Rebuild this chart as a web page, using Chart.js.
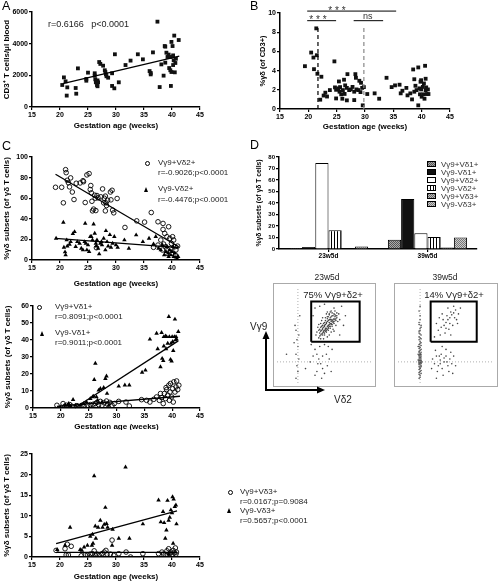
<!DOCTYPE html>
<html>
<head>
<meta charset="utf-8">
<script src="https://cdn.jsdelivr.net/npm/chart.js@4/dist/chart.umd.min.js"></script>
<style>
  body { margin: 0; background: #fff; }
  #fig { position: relative; width: 502px; height: 583px; overflow: hidden; font-family: "Liberation Sans", Arial, sans-serif; }
  #fig canvas { position: absolute; }
  .t { position: absolute; white-space: pre; color: #222; font-size: 8px; line-height: 8px; }
  .c { transform: translateX(-50%); }
  .lab { position: absolute; font-size: 12.5px; line-height: 12.5px; color: #000; }
  .mk-o { position: absolute; width: 3.4px; height: 3.4px; border: 0.9px solid #000; border-radius: 50%; }
  .mk-t { position: absolute; width: 0; height: 0; border-left: 2.8px solid transparent; border-right: 2.8px solid transparent; border-bottom: 5px solid #000; }
  .flowbox { position: absolute; border: 1px solid #aaa; box-sizing: border-box; }
</style>
</head>
<body>
<div id="fig">
  <canvas id="chartA"></canvas>
  <canvas id="chartB"></canvas>
  <canvas id="chartC1"></canvas>
  <canvas id="chartC2"></canvas>
  <canvas id="chartC3"></canvas>
  <canvas id="chartD"></canvas>
  <canvas id="flowL"></canvas>
  <canvas id="flowR"></canvas>
  <div class="flowbox" style="left:273px;top:283px;width:103px;height:104px"></div>
  <div class="flowbox" style="left:394px;top:283px;width:104px;height:104px"></div>

  <div class="lab" style="left:2px;top:0px">A</div>
  <div class="lab" style="left:250px;top:0px">B</div>
  <div class="lab" style="left:2px;top:140px">C</div>
  <div class="lab" style="left:250px;top:139px">D</div>

  <div class="t" style="left:48px;top:19.5px;font-size:9px;line-height:9px">r=0.6166   p&lt;0.0001</div>

  <div class="mk-o" style="left:144.5px;top:160.5px"></div>
  <div class="t" style="left:158px;top:159px">Vγ9+Vδ2+</div>
  <div class="t" style="left:158px;top:169.4px">r=-0.9026;p&lt;0.0001</div>
  <div class="mk-t" style="left:144px;top:186.8px"></div>
  <div class="t" style="left:158px;top:185.4px">Vγ9-Vδ2+</div>
  <div class="t" style="left:158px;top:196px">r=-0.4476;p&lt;0.0001</div>

  <div class="mk-o" style="left:37px;top:304.5px"></div>
  <div class="t" style="left:55px;top:302.8px">Vγ9+Vδ1+</div>
  <div class="t" style="left:55px;top:313.4px">r=0.8091;p&lt;0.0001</div>
  <div class="mk-t" style="left:40px;top:330.8px"></div>
  <div class="t" style="left:55px;top:329.4px">Vγ9-Vδ1+</div>
  <div class="t" style="left:55px;top:339.4px">r=0.9011;p&lt;0.0001</div>

  <div class="mk-o" style="left:227.8px;top:489.5px"></div>
  <div class="t" style="left:240px;top:487.8px">Vγ9+Vδ3+</div>
  <div class="t" style="left:240px;top:497.8px">r=0.0167;p=0.9084</div>
  <div class="mk-t" style="left:227.2px;top:508.2px"></div>
  <div class="t" style="left:240px;top:506.8px">Vγ9-Vδ3+</div>
  <div class="t" style="left:240px;top:516.8px">r=0.5657;p&lt;0.0001</div>

  <div class="t c" style="left:327px;top:273px;font-size:8.5px;line-height:8.5px">23w5d</div>
  <div class="t c" style="left:445px;top:273px;font-size:8.5px;line-height:8.5px">39w5d</div>
  <div class="t c" style="left:333px;top:289.5px;font-size:9.5px;line-height:9.5px">75% Vγ9+δ2+</div>
  <div class="t c" style="left:454px;top:289.5px;font-size:9.5px;line-height:9.5px">14% Vγ9+δ2+</div>
  <div class="t" style="left:250px;top:322px;font-size:10px;line-height:10px">Vγ9</div>
  <div class="t c" style="left:343px;top:395px;font-size:10px;line-height:10px">Vδ2</div>

  <svg style="position:absolute;left:0;top:0" width="502" height="583">
    <line x1="266" y1="389" x2="266" y2="337" stroke="#000" stroke-width="2"/>
    <polygon points="266,331 262.5,339 269.5,339" fill="#000"/>
    <line x1="265" y1="390" x2="318" y2="390" stroke="#000" stroke-width="2"/>
    <polygon points="325,390 317,386.5 317,393.5" fill="#000"/>
  </svg>
</div>

<script>
// ---- data ----
const weekTicks = [15, 20, 25, 30, 35, 40, 45];
const cd3Ticks = [0, 2000, 4000, 6000];
const gdTicks = [0, 2, 4, 6, 8, 10];
const d2Ticks = [0, 20, 40, 60, 80, 100];
const d1Ticks = [0, 10, 20, 30, 40, 50, 60];
const d3Ticks = [0, 5, 10, 15, 20, 25];
const barTicks = [0, 10, 20, 30, 40, 50, 60, 70, 80];

// A: CD3+ T cells per ul blood vs gestation week
const cd3Blood = [
  [20.4,1390],[20.7,1870],[21.0,1620],[21.3,1240],[21.2,720],[22.9,840],[23.2,2440],[22.8,1200],
  [24.7,1770],[24.7,1660],[25.0,2170],[26.2,2130],[26.2,1980],[26.3,1750],[26.4,1560],[26.6,1390],
  [26.7,1310],[26.7,1680],[26.8,1560],[27.0,2840],[27.2,2720],[27.7,2610],[28.0,2320],[28.1,2210],
  [28.2,2060],[28.3,1940],[28.6,1850],[29.3,2130],[29.3,1330],[29.7,1180],[29.8,3330],[30.5,1560],
  [31.7,2650],[32.6,2930],[33.9,3330],[34.8,3010],[36.0,2270],[36.2,2150],[36.2,2060],[36.6,3450],
  [37.4,5390],[37.8,1260],[38.1,2690],[38.5,1980],[38.7,3850],[38.8,3810],[38.8,2800],[39.0,3430],
  [39.2,3160],[39.4,3310],[39.5,2460],[39.7,2320],[39.8,1330],[39.9,2210],[39.9,4110],[40.1,3850],
  [40.2,3260],[40.2,2650],[40.3,2950],[40.4,4510],[40.5,2190],[40.6,2780],[40.7,3050],[41.2,4230],
  [39.7,3160]
];
const cd3Fit = [[20.5,1470],[41.3,3220]];

// B: % gamma-delta of CD3+
const gdOfCd3 = [
  [19.4,4.46],[20.5,5.88],[20.9,5.36],[21.0,4.15],[21.4,8.4],[21.5,5.6],[21.6,3.67],[22.3,3.36],
  [22.1,0.97],[22.7,1.4],[23.0,1.7],[23.3,1.3],[23.8,1.97],[24.6,4.96],[24.7,2.25],[24.9,1.1],
  [24.9,2.0],[25.3,2.15],[25.4,2.87],[25.5,1.8],[25.6,2.28],[25.8,1.53],[26.0,1.07],[26.1,1.97],
  [26.3,3.05],[26.4,1.57],[26.5,2.46],[26.8,2.2],[26.8,0.9],[26.9,3.63],[27.2,1.97],[27.5,2.04],
  [27.8,2.3],[28.1,1.8],[28.1,0.93],[28.3,3.63],[28.4,3.25],[28.5,2.04],[28.8,1.97],[29.0,2.94],
  [29.2,1.76],[29.3,2.73],[29.5,2.2],[29.6,0.38],[29.8,2.28],[30.4,1.56],[31.7,1.63],[32.5,1.07],
  [33.8,3.25],[34.7,2.28],[35.3,2.46],[36.1,2.53],[36.3,1.63],[36.6,1.9],[37.3,2.2],[37.5,1.42],
  [38.0,1.63],[38.3,1.0],[38.5,4.12],[38.7,3.1],[38.7,1.8],[38.9,2.42],[39.4,4.33],[39.4,0.38],
  [39.6,2.15],[39.7,1.53],[39.8,2.84],[39.9,2.04],[40.0,1.28],[40.2,2.3],[40.3,1.53],[40.4,2.66],
  [40.5,1.07],[40.6,4.5],[40.7,3.15],[40.7,1.97],[40.9,1.56],[41.1,2.04],[41.2,1.56],[39.1,1.97],
  [39.9,3.0],[40.8,2.25]
];
const gdCutoffs = [[21.7, 8.75], [29.8, 8.75]];
const gdSigBars = [[19.8, 35.5, 10.2, 25.05, '* * *'], [19.8, 24.9, 9.2, 21.7, '* * *'], [28.0, 33.2, 9.2, 30.5, 'ns']];

// C (top): Vg9+Vd2+ and Vg9-Vd2+
const v9d2Pos = [
  [19.2,70.6],[20.3,70.6],[20.6,55.5],[21.0,87.7],[21.1,84.8],[21.3,77.4],[21.5,75],[21.7,71],
  [21.9,79.7],[22.2,66],[22.5,58.7],[22.9,74.5],[23.6,74.8],[24.1,77],[24.2,76],[24.5,55.8],
  [24.8,82.6],[25.2,83.9],[25.4,68.4],[25.5,72.3],[25.6,65.2],[25.7,57],[25.8,47.7],[26.0,49.4],
  [26.2,62.9],[26.3,60],[26.4,48],[26.6,62.6],[26.8,60.3],[27.3,61.3],[27.6,69],[27.8,55.5],
  [27.9,60],[28.1,62],[28.1,47.7],[28.2,55.5],[28.3,52.9],[28.5,58],[29.0,66],[29.1,58.4],
  [29.3,67.7],[29.4,48.4],[29.6,45.8],[30.2,59.7],[31.6,31.6],[33.7,38],[35.1,36.8],[36.3,46.1],
  [37.5,37.1],[38.4,35.5],[38.4,29.7],[38.7,25.8],[39.1,22.6],[39.4,32.3],[39.6,21],[39.9,16.1],
  [40.1,22.6],[40.3,19.4],[40.5,12.9],[40.7,9.7],[41.0,13.5],[38.9,12.9],[38.3,9.7],[39.1,6.5],
  [38.0,19.4],[38.5,15.5],[39.7,11.3],[40.0,6.5],[40.6,4.8],[37.5,14.5],[36.7,12.3],[26.5,11.9]
];
const v9d2Neg = [
  [19.3,21],[20.6,36.5],[20.7,12.3],[20.9,7.7],[21.0,4.8],[21.2,19.4],[21.3,13.5],[21.7,15.2],
  [21.9,17.7],[22.3,25.5],[22.6,27.4],[22.8,12.9],[23.1,17.7],[23.5,16.1],[23.8,11.3],[24.1,9.7],
  [24.4,17.7],[24.5,35.5],[24.6,16.1],[24.8,9.7],[25.0,14.5],[25.2,8.1],[25.4,22.6],[25.6,22.6],
  [25.8,19.4],[26.0,34.8],[26.2,25.8],[26.4,16.1],[26.5,13.5],[26.6,19.4],[26.8,11.3],[27.0,5.8],
  [27.2,16.1],[27.4,17.7],[27.5,14.5],[27.8,21],[28.1,9.7],[28.2,28.4],[28.4,17.7],[28.6,13.5],
  [28.9,24.5],[29.1,12.3],[29.4,16.1],[29.7,22.6],[30.0,14.5],[30.3,12.3],[31.5,19.4],[32.3,11.3],
  [33.6,24.2],[34.8,17.7],[35.9,21],[36.7,15.5],[37.1,22.6],[37.6,11.3],[38.0,9.7],[38.3,14.5],
  [38.6,4.8],[38.9,8.1],[39.1,12.9],[39.3,6.5],[39.4,3.2],[39.6,9.7],[39.8,4.8],[40.0,8.1],
  [40.2,12.9],[40.3,3.2],[40.5,6.5],[40.7,2.6],[40.9,1.6],[41.1,3.2]
];
const v9d2PosFit = [[19.2,83.2],[41.2,12.9]];
const v9d2NegFit = [[19.2,21],[41.2,12]];

// C (middle): Vg9+Vd1+ and Vg9-Vd1+
const v9d1Pos = [
  [19.3,1.6],[20.4,2.6],[20.7,1],[21.0,1.6],[21.3,0.6],[21.6,2],[22.0,1],[22.9,1.4],[23.8,1.6],
  [24.2,1],[24.8,1.6],[25.3,2],[25.8,2.2],[26.2,2.6],[26.5,3.3],[26.8,2],[27.1,3.9],[27.4,1.6],
  [27.8,3],[28.2,4.1],[28.4,2.2],[28.8,3.3],[29.2,1.6],[29.6,2.6],[30.4,3.9],[31.7,3.5],[32.3,1.2],
  [34.5,4.9],[35.4,4.5],[36.0,3.5],[36.7,5.1],[37.2,6.5],[37.7,4.5],[38.1,6.1],[38.4,2.6],[38.6,8.5],
  [38.8,5.5],[39.0,10.8],[39.2,7.5],[39.4,13.4],[39.6,9.4],[39.7,14.4],[39.9,6.5],[40.1,11.4],
  [40.3,15.4],[40.5,9.4],[40.7,12.4],[40.8,15.9],[41.0,10.8],[41.2,13.4],[40.2,3.5],[39.5,4.5],
  [38.9,12],[37.9,8.5]
];
const v9d1Neg = [
  [19.9,0.6],[20.8,1.6],[21.4,2.6],[21.8,1],[22.2,4.9],[22.6,1.6],[23.5,1.6],[24.1,2.6],[24.6,3.5],
  [25.3,5.5],[25.7,6.5],[25.9,6.9],[26.0,16.7],[26.2,26.2],[26.4,6.5],[26.6,4.5],[26.8,10.4],
  [27.1,11.4],[27.4,3.5],[27.7,12],[28.0,17.3],[28.2,18.7],[28.3,8.5],[28.6,1.6],[30.4,12.8],
  [31.5,13.4],[32.3,13.4],[34.6,20.9],[35.2,22.2],[36.0,40.4],[37.2,43.9],[37.4,34.8],[37.9,24.2],
  [38.1,44.3],[38.2,29.1],[38.4,27.8],[38.5,36.4],[38.8,42.3],[38.9,34.8],[39.2,38],[39.4,53.7],
  [39.5,41.9],[39.7,28.5],[39.8,38],[39.9,27.6],[40.0,41.9],[40.1,39],[40.2,33.7],[40.4,41.9],
  [40.5,52.2],[40.6,40],[40.7,41.9],[40.8,40.4],[41.1,44.9],[39.0,41.9],[38.5,41.9]
];
const v9d1PosFit = [[19.3,1],[41.4,6.9]];
const v9d1NegFit = [[22.5,0],[41.1,39.5]];

// C (bottom): Vg9+Vd3+ and Vg9-Vd3+
const v9d3Pos = [
  [19.3,1.6],[20.9,2.0],[21.1,0.5],[21.3,3.1],[21.5,0.5],[22.0,2.6],[23.8,0.3],[24.5,0.5],[24.9,0.5],
  [25.4,0.7],[25.8,0.8],[26.1,1.5],[26.3,0.4],[26.6,0.7],[27.0,0.4],[27.5,0.8],[27.9,1.2],[28.2,1.6],
  [28.4,0.7],[29.0,0.7],[29.3,4.1],[29.6,0.4],[30.5,0.8],[31.8,1.2],[32.6,0],[34.8,0.8],[37.6,0.8],
  [38.2,1.2],[38.5,0.7],[38.9,0.3],[39.1,1.5],[39.4,2.0],[39.6,0.8],[39.8,1.2],[40.0,0.5],[40.2,1.6],
  [40.4,1.0],[40.6,2.2],[40.7,0.7],[40.8,1.2]
];
const v9d3Neg = [
  [19.5,1.8],[20.9,2.8],[21.8,7.2],[23.6,1.8],[23.9,1.6],[24.3,2.4],[24.9,2.8],[25.4,5.0],[25.7,2.8],
  [25.8,5.5],[25.9,3.3],[26.1,19.7],[26.3,7.5],[26.4,4.5],[26.8,7.2],[27.2,8.9],[27.6,7.2],[27.9,7.9],
  [28.1,12.0],[28.3,8.1],[28.5,7.2],[29.3,2.8],[29.4,6.7],[30.5,4.5],[31.7,21.8],[32.4,4.5],[34.8,8.0],
  [37.6,13.8],[38.0,8.5],[38.4,11.0],[38.6,8.3],[38.8,4.5],[39.0,6.5],[39.2,13.7],[39.4,8.9],[39.6,9.6],
  [39.8,11.4],[40.0,10.7],[40.1,14.6],[40.3,14.0],[40.5,12.2],[40.7,12.6],[40.8,8.0],[40.2,3.3],[39.4,0.7]
];
const v9d3PosFit = [[19.3,1.1],[40.9,1.1]];
const v9d3NegFit = [[19.3,3.25],[40.9,11.2]];

// D: subset percentages at two gestation ages
const ageGroups = ['23w5d', '39w5d'];
const subsetNames = ['Vγ9+Vδ1+', 'Vγ9-Vδ1+', 'Vγ9+Vδ2+', 'Vγ9-Vδ2+', 'Vγ9+Vδ3+', 'Vγ9-Vδ3+'];
const subsetPct = [[0.9, 8.1], [1.7, 43.5], [74.8, 13.6], [16.2, 10.4], [0.4, 1.2], [2.2, 9.9]];

// D: flow dot plots, box coordinates 0..100 (Vd2 across, Vg9 up)
const flowLeftDots = [
  [44,47],[46,50],[48,52],[50,55],[52,57],[54,60],[56,62],[58,65],[60,67],[62,70],[47,55],[49,58],
  [51,61],[53,64],[55,66],[57,69],[45,52],[50,50],[52,53],[54,55],[56,57],[58,59],[60,62],[48,60],
  [50,63],[53,67],[55,71],[58,73],[61,75],[43,58],[46,62],[51,68],[57,53],[59,56],[62,60],[64,64],
  [63,68],[41,50],[55,50],[49,46],[53,48],[47,65],[52,72],[60,78],[65,72],[66,66],[44,61],[57,62],
  [54,58],[51,57],[56,66],[59,70],[49,53],[45,56],[62,65],[53,74],[48,68],[42,53],[60,54],[63,73],
  [52,62],[55,63],[50,59],[57,66],[54,69],[48,56],[46,58],[59,63],[61,71],[56,74],
  [45,49],[47,51],[49,54],[51,56],[53,59],[55,61],[57,64],[59,66],[61,69],[46,54],[48,57],[50,60],
  [52,63],[54,65],[56,68],[58,70],[60,72],[44,55],[47,59],[49,62],[51,65],[53,69],[55,72],[57,75],
  [50,52],[52,55],[54,57],[56,59],[58,61],[60,64],[62,67],[51,54],[53,56],[55,59],[57,61],[59,64],
  [61,66],[63,70],[48,50],[46,46],
  [40,78],[45,80],[68,80],[70,60],[38,70],[66,50],[72,70],[50,82],
  [40,35],[42,30],[44,25],[46,20],[48,15],[50,10],[38,28],[52,30],[55,25],[45,38],[35,22],[42,12],
  [47,5],[53,18],[58,35],[36,40],[50,40],[43,20],[57,12],[40,8],[48,28],[54,38],
  [20,55],[21,45],[22,38],[20,30],[23,25],[21,18],[22,12],[19,60],[23,50],[20,5],[24,70],[18,42],
  [10,30],[30,15]
];
const flowRightDots = [
  [22,5],[23,8],[22,11],[24,13],[23,15],[22,17],[23,19],[24,20],[22,21],[23,22],[22,23],[24,24],
  [23,25],[22,26],[23,27],[24,28],[22,29],[23,31],[22,33],[24,35],[23,37],[22,40],[23,43],[24,46],
  [22,48],[23,51],[22,54],[23,57],[24,60],[22,63],[23,66],[23,70],[22,75],[23,80],[24,18],[21,24],
  [25,22],[21,30],[24,32],[21,38],[22,19],[24,23],[23,29],[22,36],[24,42],
  [23,6],[22,9],[24,10],[23,12],[22,14],[23,16],[24,17],[22,20],[23,21],[24,21],[22,22],[23,23],
  [22,24],[24,26],[23,26],[22,28],[23,30],[24,30],[22,32],[23,34],[22,38],[24,39],[23,41],[22,45],
  [23,47],[24,50],[22,52],[23,55],[24,58],[22,61],
  [42,55],[45,58],[48,60],[50,63],[52,66],[54,68],[56,71],[58,73],[60,76],[47,66],[51,70],[55,74],
  [44,50],[49,52],[53,56],[57,60],[61,66],[63,72],[40,62],[46,72],[52,78],[58,80],[62,62],[38,48],
  [55,50],[65,78],[43,68],[59,68],[50,57],[54,62],
  [36,25],[38,20],[40,28],[42,18],[44,24],[46,15],[48,22],[50,28],[52,18],[54,25],[56,20],[45,30],
  [41,12],[47,8],[53,12],[58,28],[35,15],[39,34],[50,35],[44,20],[48,26],[43,28],[51,22],[55,32],
  [60,18],[46,38],[40,5],[57,10]
];
const flowLeftGate = [[36,43],[36,85],[87,85],[87,43]];
const flowRightGate = [[34,43],[34,85],[82,85],[82,43]];
const flowLeftQuad = [22, 22];
const flowRightQuad = [23, 22];

// ---- drawing ----
Chart.defaults.font.family = '"Liberation Sans", Arial, sans-serif';
Chart.defaults.color = '#000';
Chart.defaults.animation = false;
Chart.defaults.plugins.legend.display = false;
Chart.defaults.plugins.tooltip.enabled = false;

const toXY = pts => pts.map(([x, y]) => ({ x, y }));
const tickFont = { size: 7, weight: 'bold' };
const titleFont = { size: 8, weight: 'bold' };

function placeCanvas(id, box) {
  const c = document.getElementById(id);
  c.width = box.w;
  c.height = box.h;
  c.style.left = box.x + 'px';
  c.style.top = box.y + 'px';
  return c;
}

// layout padding so that the plot area lands on plot.l/t/r/b (figure pixels)
function frame(box, plot, yW, xH) {
  return {
    left: plot.l - box.x - yW,
    top: plot.t - box.y,
    right: box.x + box.w - plot.r,
    bottom: box.y + box.h - plot.b - xH
  };
}

function axis(min, max, ticks, title, fit, font = titleFont) {
  return {
    type: 'linear', min, max,
    afterBuildTicks: s => { s.ticks = ticks.map(value => ({ value })); },
    afterFit: fit,
    ticks: { font: tickFont, color: '#000', padding: 1, callback: v => String(v) },
    grid: { drawOnChartArea: false, color: '#000', tickLength: 3, lineWidth: 1.2 },
    border: { color: '#000', width: 1.5 },
    title: { display: true, text: title, font, color: '#000', padding: 0 }
  };
}

function gestChart(id, box, plot, yW, xH, yMax, yTicks, yTitle, datasets, plugins = [], yFont) {
  return new Chart(placeCanvas(id, box), {
    type: 'scatter',
    data: { datasets },
    options: {
      responsive: false,
      devicePixelRatio: 1,
      layout: { padding: frame(box, plot, yW, xH) },
      scales: {
        x: axis(15, 45, weekTicks, 'Gestation age (weeks)', s => { s.height = xH; }),
        y: axis(0, yMax, yTicks, yTitle, s => { s.width = yW; }, yFont)
      }
    },
    plugins
  });
}

const squares = pts => ({ data: toXY(pts), pointStyle: 'rect', pointRadius: 2.7, pointBackgroundColor: '#111', pointBorderWidth: 0 });
const circles = pts => ({ data: toXY(pts), pointStyle: 'circle', pointRadius: 2.3, pointBackgroundColor: 'rgba(255,255,255,0)', pointBorderColor: '#000', pointBorderWidth: 0.9 });
const triangles = pts => ({ data: toXY(pts), pointStyle: 'triangle', pointRadius: 2.6, pointBackgroundColor: '#000', pointBorderWidth: 0 });
const segment = (pts, color = '#000', width = 1.3, dash = []) => ({
  data: toXY(pts), showLine: true, borderColor: color, borderWidth: width, borderDash: dash, pointRadius: 0, clip: false
});

// A
gestChart('chartA', { x: 0, y: 0, w: 215, h: 135 }, { l: 32, t: 12, r: 200, b: 107 }, 30, 24,
  6000, cd3Ticks, 'CD3⁺ T cells/μl blood',
  [segment(cd3Fit), squares(cd3Blood)]);

// B
const sigLabels = {
  id: 'sigLabels',
  afterDatasetsDraw(chart) {
    const { ctx, scales: { x, y } } = chart;
    ctx.save();
    ctx.fillStyle = '#333';
    ctx.textAlign = 'center';
    gdSigBars.forEach(([, , level, at, label]) => {
      const py = y.getPixelForValue(level);
      if (label === 'ns') {
        ctx.font = '9px "Liberation Sans", Arial';
        ctx.fillText(label, x.getPixelForValue(at), py - 1.5);
      } else {
        ctx.font = '10px "Liberation Sans", Arial';
        ctx.fillText(label, x.getPixelForValue(at), py + 2.5);
      }
    });
    ctx.restore();
  }
};
gestChart('chartB', { x: 250, y: 0, w: 252, h: 135 }, { l: 280, t: 13, r: 450, b: 109 }, 22, 23,
  10, gdTicks, '%γδ (of CD3+)',
  [
    ...gdSigBars.map(([from, to, level]) => segment([[from, level], [to, level]], '#000', 1)),
    segment([[gdCutoffs[0][0], 0], [gdCutoffs[0][0], gdCutoffs[0][1]]], '#000', 1.2, [4, 3]),
    segment([[gdCutoffs[1][0], 0], [gdCutoffs[1][0], gdCutoffs[1][1]]], '#888', 1.2, [4, 3]),
    squares(gdOfCd3)
  ],
  [sigLabels], { size: 7.5, weight: 'bold' });

// C
const subsetTitle = '%γδ subsets (of γδ T cells)';
gestChart('chartC1', { x: 0, y: 140, w: 250, h: 150 }, { l: 32, t: 157, r: 200, b: 260 }, 30, 29,
  100, d2Ticks, subsetTitle,
  [segment(v9d2PosFit), segment(v9d2NegFit), circles(v9d2Pos), triangles(v9d2Neg)]);
gestChart('chartC2', { x: 0, y: 290, w: 250, h: 140 }, { l: 33, t: 306, r: 200, b: 408 }, 30, 24,
  60, d1Ticks, subsetTitle,
  [segment(v9d1PosFit), segment(v9d1NegFit), circles(v9d1Pos), triangles(v9d1Neg)]);
gestChart('chartC3', { x: 0, y: 435, w: 250, h: 148 }, { l: 32, t: 454, r: 200, b: 557 }, 30, 25,
  25, d3Ticks, subsetTitle,
  [segment(v9d3PosFit), segment(v9d3NegFit), circles(v9d3Pos), triangles(v9d3Neg)]);

// D bar chart
function pattern(size, draw) {
  const c = document.createElement('canvas');
  c.width = c.height = size;
  draw(c.getContext('2d'));
  return c.getContext('2d').createPattern(c, 'repeat');
}
const checker = (a, b) => pattern(2, g => {
  g.fillStyle = b; g.fillRect(0, 0, 2, 2);
  g.fillStyle = a; g.fillRect(0, 0, 1, 1); g.fillRect(1, 1, 1, 1);
});
const subsetFills = [
  checker('#555', '#aaa'),
  '#111',
  '#fff',
  pattern(3, g => { g.fillStyle = '#fff'; g.fillRect(0, 0, 3, 3); g.fillStyle = '#000'; g.fillRect(0, 0, 1, 3); }),
  checker('#666', '#bbb'),
  checker('#777', '#ccc')
];

const barLegend = {
  id: 'barLegend',
  afterDraw(chart) {
    const { ctx } = chart;
    ctx.save();
    ctx.font = '8px "Liberation Sans", Arial';
    ctx.textBaseline = 'middle';
    subsetNames.forEach((name, i) => {
      const cy = 24 + i * 8;
      ctx.fillStyle = subsetFills[i];
      ctx.fillRect(177, cy - 3, 9, 6);
      ctx.strokeStyle = '#000';
      ctx.lineWidth = 1;
      ctx.strokeRect(177.5, cy - 2.5, 8, 5);
      ctx.fillStyle = '#333';
      ctx.fillText(name, 191, cy + 0.5);
    });
    ctx.restore();
  }
};

const boxD = { x: 250, y: 140, w: 252, h: 125 };
new Chart(placeCanvas('chartD', boxD), {
  type: 'bar',
  data: {
    labels: ageGroups,
    datasets: subsetNames.map((name, i) => ({
      label: name,
      data: subsetPct[i],
      backgroundColor: subsetFills[i],
      borderColor: '#000',
      borderWidth: 1,
      barPercentage: 1,
      categoryPercentage: 0.8
    }))
  },
  options: {
    responsive: false,
    devicePixelRatio: 1,
    layout: { padding: frame(boxD, { l: 279, t: 157, r: 477, b: 249 }, 24, 12) },
    scales: {
      x: {
        type: 'category',
        afterFit: s => { s.height = 12; },
        ticks: { font: { size: 6.5, weight: 'bold' }, color: '#000', padding: 0, maxRotation: 0 },
        grid: { offset: false, drawOnChartArea: false, color: '#000', tickLength: 3, lineWidth: 1.2 },
        border: { color: '#000', width: 1.5 }
      },
      y: {
        type: 'linear', min: 0, max: 80,
        afterBuildTicks: s => { s.ticks = barTicks.map(value => ({ value })); },
        afterFit: s => { s.width = 24; },
        ticks: { font: { size: 6, weight: 'bold' }, color: '#000', padding: 1 },
        grid: { drawOnChartArea: false, color: '#000', tickLength: 3, lineWidth: 1.2 },
        border: { color: '#000', width: 1.5 },
        title: { display: true, text: subsetTitle, font: { size: 6.8, weight: 'bold' }, color: '#000', padding: 0 }
      }
    }
  },
  plugins: [barLegend]
});

// D flow plots
function flowChart(id, box, dots, gate, quad) {
  const [qx, qy] = quad;
  new Chart(placeCanvas(id, box), {
    type: 'scatter',
    data: {
      datasets: [
        segment([...gate, gate[0]], '#000', 2),
        segment([[qx, 0], [qx, 100]], '#999', 0.8, [1, 2]),
        segment([[0, qy], [100, qy]], '#999', 0.8, [1, 2]),
        { data: toXY(dots), pointRadius: 0.8, pointBackgroundColor: '#444', pointBorderWidth: 0 }
      ]
    },
    options: {
      responsive: false,
      devicePixelRatio: 1,
      layout: { padding: 0 },
      scales: {
        x: { type: 'linear', display: false, min: 0, max: 100 },
        y: { type: 'linear', display: false, min: 0, max: 100 }
      }
    }
  });
}
flowChart('flowL', { x: 273, y: 283, w: 103, h: 104 }, flowLeftDots, flowLeftGate, flowLeftQuad);
flowChart('flowR', { x: 394, y: 283, w: 104, h: 104 }, flowRightDots, flowRightGate, flowRightQuad);
</script>
</body>
</html>
